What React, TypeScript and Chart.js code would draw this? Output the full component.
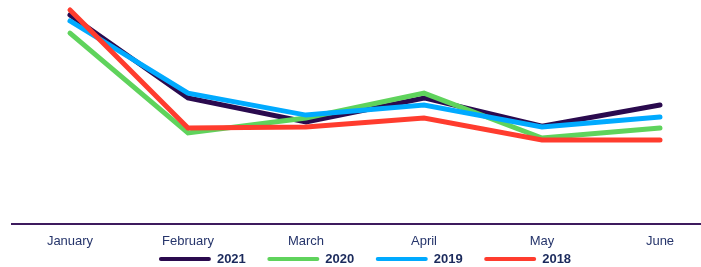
import React, { useEffect, useRef } from "react";
import { Chart, registerables } from "chart.js";

Chart.register(...registerables);

const months = ["January", "February", "March", "April", "May", "June"];
const series2021 = [95.0, 57.3, 46.4, 57.3, 44.5, 54.1];
const series2020 = [86.8, 41.4, 48.2, 59.5, 39.1, 43.6];
const series2019 = [92.3, 59.5, 49.5, 54.1, 44.1, 48.6];
const series2018 = [97.3, 43.6, 44.1, 48.2, 38.2, 38.2];
const seriesLabels = ["2021", "2020", "2019", "2018"];
const seriesColors = ["#2a0a4e", "#5fd35c", "#00aaff", "#ff3c2e"];

const FONT = "'Liberation Sans', Arial, Helvetica, sans-serif";

const axisLinePlugin = {
  id: "axisLine",
  beforeDatasetsDraw(chart: any) {
    const { ctx, chartArea } = chart;
    ctx.save();
    ctx.strokeStyle = "#3d1a5e";
    ctx.lineWidth = 2;
    ctx.beginPath();
    ctx.moveTo(11, chartArea.bottom);
    ctx.lineTo(chart.width, chartArea.bottom);
    ctx.stroke();
    ctx.restore();
  },
};

// Legend drawn from the chart's own datasets
const lineLegendPlugin = {
  id: "lineLegend",
  afterDraw(chart: any) {
    const { ctx, chartArea } = chart;
    const boxW = 52;
    const gapText = 6;
    const gapItem = 21.5;
    const y = 259.5;
    ctx.save();
    ctx.font = `bold 13px ${FONT}`;
    const items = chart.data.datasets.map((ds: any) => ({
      text: ds.label,
      color: ds.borderColor,
      w: ctx.measureText(ds.label).width,
    }));
    const total =
      items.reduce((s: number, it: any) => s + boxW + gapText + it.w, 0) +
      gapItem * (items.length - 1);
    let x = (chartArea.left + chartArea.right) / 2 - total / 2;
    items.forEach((it: any) => {
      ctx.strokeStyle = it.color;
      ctx.lineWidth = 4;
      ctx.lineCap = "round";
      ctx.beginPath();
      ctx.moveTo(x + 2, y - 0.5);
      ctx.lineTo(x + boxW - 2, y - 0.5);
      ctx.stroke();
      ctx.fillStyle = "#1b2a5c";
      ctx.textBaseline = "middle";
      ctx.textAlign = "left";
      ctx.fillText(it.text, x + boxW + gapText, y);
      x += boxW + gapText + it.w + gapItem;
    });
    ctx.restore();
  },
};

export default function App() {
  const ref = useRef<HTMLCanvasElement | null>(null);
  useEffect(() => {
    if (!ref.current) return;
    const all = [series2021, series2020, series2019, series2018];
    const chart = new Chart(ref.current, {
      type: "line",
      data: {
        labels: months,
        datasets: all.map((d, i) => ({
          label: seriesLabels[i],
          data: d,
          borderColor: seriesColors[i],
          backgroundColor: seriesColors[i],
          borderWidth: 5,
          borderCapStyle: "round",
          borderJoinStyle: "miter",
          pointRadius: 0,
          tension: 0,
          fill: false,
          clip: false,
          order: 4 - i,
        })),
      },
      options: {
        animation: false,
        responsive: true,
        maintainAspectRatio: false,
        layout: { padding: { left: 70, right: 41, top: 4, bottom: 17 } },
        plugins: {
          tooltip: { enabled: false },
          legend: { display: false },
        },
        scales: {
          x: {
            type: "category",
            offset: false,
            grid: { display: false },
            border: { display: false },
            ticks: {
              padding: 2,
              color: "#26356b",
              maxRotation: 0,
              autoSkip: false,
              font: { family: FONT, size: 13 },
            },
            afterFit: (scale: any) => {
              scale.height = 26;
            },
          },
          y: { display: false, min: 0, max: 100 },
        },
      },
      plugins: [axisLinePlugin, lineLegendPlugin],
    });
    return () => chart.destroy();
  }, []);
  return (
    <div style={{ position: "absolute", left: 0, top: 0, width: 701, height: 267 }}>
      <canvas ref={ref} />
    </div>
  );
}
